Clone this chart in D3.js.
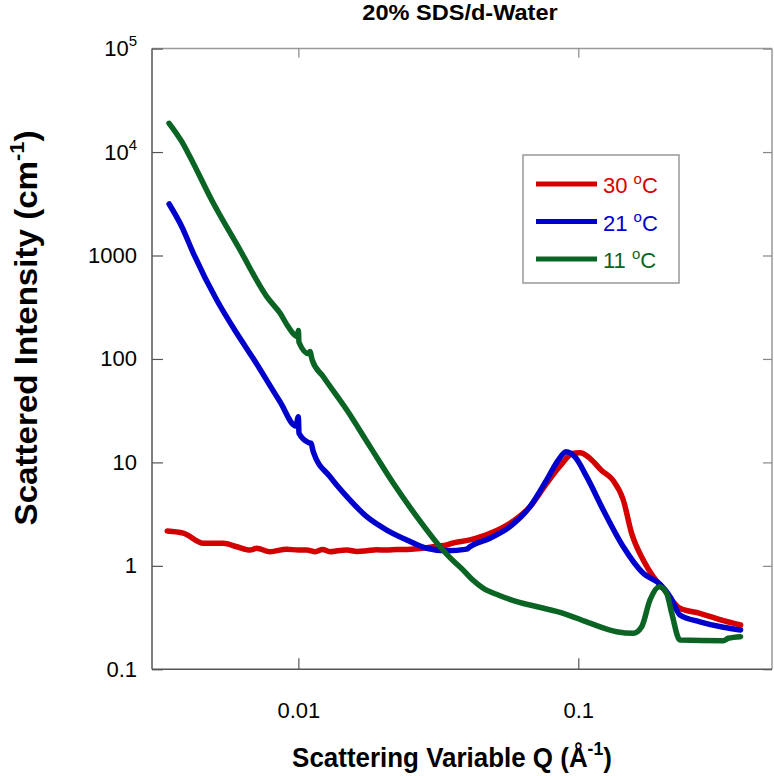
<!DOCTYPE html>
<html><head><meta charset="utf-8">
<script src="https://cdn.jsdelivr.net/npm/d3@7"></script>
<style>
body{margin:0;background:#fff;}
text{font-family:"Liberation Sans",Arial,sans-serif;}
</style></head>
<body>
<svg id="c" width="774" height="776"></svg>
<script>
// ---- data ----
const seriesNames = ["30 \u00B0C", "21 \u00B0C", "11 \u00B0C"];
const seriesColors = ["#d40000", "#0000cc", "#0a6424"];
const xTicks = [0.01, 0.1];
const xTickLabels = ["0.01", "0.1"];
const yTicks = [0.1, 1, 10, 100, 1000, 1e4, 1e5];
const yTickLabels = ["0.1", "1", "10", "100", "1000", "10|4", "10|5"];

const q30 = [0.0034,0.00388,0.00458,0.0054,0.006026,0.00672,0.0071,0.00792,0.00909,0.01,0.01072,0.0115,0.0122,0.01297,0.0138,0.0149,0.0162,0.01755,0.019,0.02069,0.0225,0.02438,0.0265,0.02874,0.0315,0.0339,0.0348,0.041,0.0484,0.057,0.0672,0.0771,0.0867,0.0952,0.1014,0.1101,0.1206,0.1328,0.1448,0.1551,0.1706,0.1854,0.2009,0.2308,0.272,0.3297,0.38];
const i30 = [2.17,2.07,1.65,1.65,1.53,1.42,1.48,1.37,1.45,1.42,1.42,1.37,1.44,1.37,1.40,1.42,1.38,1.40,1.43,1.42,1.44,1.44,1.46,1.50,1.55,1.59,1.63,1.78,2.06,2.58,3.73,6.28,9.44,12.2,12.4,10.96,8.45,6.76,4.33,2.06,1.14,0.785,0.607,0.389,0.348,0.295,0.268];

const q21 = [0.003453,0.003834,0.004217,0.00511,0.006026,0.0069,0.0086,0.0098,0.01,0.01005,0.0109,0.0111,0.0113,0.01297,0.0149,0.01755,0.02069,0.02438,0.02874,0.0339,0.03995,0.041,0.0484,0.057,0.0672,0.0771,0.0848,0.0904,0.0973,0.1071,0.1228,0.1448,0.1706,0.1958,0.2126,0.2308,0.272,0.3297,0.38];
const i21 = [3146,1897,1049,371,177,101,38.6,22.5,27.7,19.1,15.5,15.3,12.7,7.27,4.66,2.99,2.22,1.78,1.48,1.40,1.45,1.53,1.85,2.39,3.73,6.76,10.5,12.7,11.3,7.28,3.47,1.53,0.847,0.664,0.504,0.335,0.288,0.255,0.240];

const q11 = [0.003453,0.003834,0.0041,0.0049,0.00619,0.00771,0.00861,0.0092,0.0099,0.01,0.01005,0.0109,0.011,0.0112,0.01228,0.0149,0.01803,0.02184,0.02648,0.03208,0.0348,0.0388,0.042,0.04577,0.052,0.06026,0.072,0.0884,0.1101,0.1371,0.1572,0.1684,0.1803,0.1947,0.2069,0.2157,0.2308,0.3297,0.3433,0.38];
const i11 = [18970,12590,9020,3440,1130,400,276,205,165,188,145,112,118,98,67.3,32.1,14.2,6.28,2.99,1.53,1.2,0.91,0.73,0.607,0.52,0.451,0.40,0.348,0.279,0.231,0.223,0.258,0.468,0.629,0.543,0.348,0.192,0.189,0.1995,0.2066];

const title = "20% SDS/d-Water";

// ---- layout ----
const svg = d3.select("#c");
const L = 152, R = 772, T = 48.6, B = 669.3;
const x = d3.scaleLog().domain([0.003, 0.492]).range([L, R]);
const y = d3.scaleLog().domain([0.1, 1e5]).range([B, T]);

// frame
svg.append("line").attr("x1",L).attr("x2",R).attr("y1",T).attr("y2",T).attr("stroke","#999").attr("stroke-width",1.5);
svg.append("line").attr("x1",R).attr("x2",R).attr("y1",T).attr("y2",B).attr("stroke","#999").attr("stroke-width",1.5);

const yAxis = svg.append("g").attr("transform",`translate(${L},0)`)
  .call(d3.axisLeft(y).tickValues(yTicks).tickSize(-11).tickPadding(15).tickFormat((d,i)=>yTickLabels[i]));
const yAxisR = svg.append("g").attr("transform",`translate(${R},0)`)
  .call(d3.axisRight(y).tickValues(yTicks).tickSize(-9).tickFormat(""));
const xAxis = svg.append("g").attr("transform",`translate(0,${B})`)
  .call(d3.axisBottom(x).tickValues(xTicks).tickSize(-11).tickPadding(33).tickFormat((d,i)=>xTickLabels[i]));
const xAxisT = svg.append("g").attr("transform",`translate(0,${T})`)
  .call(d3.axisTop(x).tickValues(xTicks).tickSize(-9).tickFormat(""));

[yAxis,xAxis].forEach(g=>{
  g.select(".domain").attr("stroke","#555").attr("stroke-width",1.5);
  g.selectAll(".tick line").attr("stroke","#555").attr("stroke-width",1.2);
  g.selectAll(".tick text").attr("font-size",22).attr("fill","#000").style("font-family","Liberation Sans, Arial, sans-serif");
});
[yAxisR,xAxisT].forEach(g=>{
  g.select(".domain").remove();
  g.selectAll(".tick line").attr("stroke","#888").attr("stroke-width",1.2);
});
yAxis.select(".domain").attr("d",`M0,${T}V${B}`);
xAxis.select(".domain").attr("d",`M${L},0H${R}`);

// superscripts for powers
yAxis.selectAll(".tick text").each(function(d,i){
  const s = yTickLabels[i];
  if (s.includes("|")) {
    const [b,e] = s.split("|");
    const t = d3.select(this).text(null);
    t.append("tspan").text(b);
    t.append("tspan").attr("dy",-10).attr("font-size",15).text(e);
  }
});

// lines
const line = d3.line().x(d=>x(d[0])).y(d=>y(d[1])).curve(d3.curveMonotoneX);
const seriesData = [d3.zip(q30,i30), d3.zip(q21,i21), d3.zip(q11,i11)];
seriesData.forEach((dat,k)=>{
  svg.append("path").datum(dat).attr("d",line).attr("fill","none")
    .attr("stroke",seriesColors[k]).attr("stroke-width",5.5).attr("stroke-linejoin","round").attr("stroke-linecap","round");
});

// legend
const lg = svg.append("g");
lg.append("rect").attr("x",523).attr("y",155).attr("width",156).attr("height",128)
  .attr("fill","#fff").attr("stroke","#999").attr("stroke-width",1.5);
seriesNames.forEach((n,k)=>{
  const yy = 184 + k*37.5;
  lg.append("line").attr("x1",536).attr("x2",597).attr("y1",yy).attr("y2",yy)
    .attr("stroke",seriesColors[k]).attr("stroke-width",5);
  const t = lg.append("text").attr("x",603).attr("y",yy+9).attr("font-size",22).attr("fill",seriesColors[k]);
  const parts = n.split(" ");
  t.append("tspan").text(parts[0]+" ");
  t.append("tspan").attr("dy",-9).attr("font-size",15).text("o");
  t.append("tspan").attr("dy",9).text("C");
});

// helper: fit text group to a target width
function fitWidth(g, target){
  const w = g.node().getBBox().width;
  return target / w;
}

// title
const tg = svg.append("g");
tg.append("text").attr("x",0).attr("y",0).attr("text-anchor","middle")
  .attr("font-size",22).attr("font-weight","bold").text(title);
tg.attr("transform",`translate(460,20) scale(${fitWidth(tg,196)},1)`);

// x label
const xg = svg.append("g");
const xl = xg.append("text").attr("x",0).attr("y",0).attr("text-anchor","middle")
  .attr("font-size",28).attr("font-weight","bold");
xl.append("tspan").text("Scattering Variable Q (\u00C5");
xl.append("tspan").attr("dy",-12).attr("font-size",19).text("-1");
xl.append("tspan").attr("dy",12).text(")");
xg.attr("transform",`translate(452,767) scale(${fitWidth(xg,320)},1)`);

// y label
const yg = svg.append("g");
const yl = yg.append("text").attr("x",0).attr("y",0).attr("text-anchor","middle")
  .attr("font-size",32).attr("font-weight","bold");
yl.append("tspan").text("Scattered Intensity (cm");
yl.append("tspan").attr("dy",-13).attr("font-size",21).text("-1");
yl.append("tspan").attr("dy",13).text(")");
yg.attr("transform",`translate(37,328) rotate(-90) scale(${fitWidth(yg,395)},1)`);
</script>
</body></html>
